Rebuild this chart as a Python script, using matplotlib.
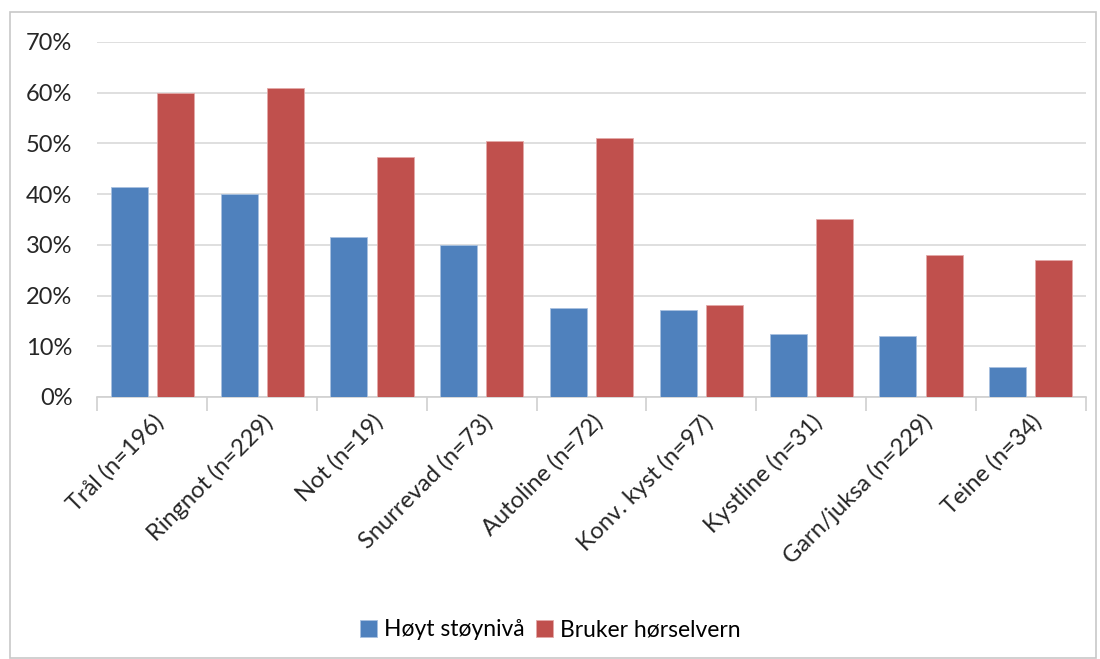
import numpy as np
import matplotlib
matplotlib.use("Agg")
import matplotlib.pyplot as plt
import matplotlib.patches as mpatches
from matplotlib.ticker import PercentFormatter

categories = ["Trål (n=196)", "Ringnot (n=229)", "Not (n=19)", "Snurrevad (n=73)",
              "Autoline (n=72)", "Konv. kyst (n=97)", "Kystline (n=31)",
              "Garn/juksa (n=229)", "Teine (n=34)"]
hoyt_stoy = [41.5, 40.0, 31.5, 30.0, 17.5, 17.1, 12.5, 12.0, 5.9]
horselvern = [60.0, 61.0, 47.4, 50.4, 51.0, 18.1, 35.0, 27.9, 27.0]
series_names = ["Høyt støynivå", "Bruker hørselvern"]

blue = "#4F81BD"
red = "#C0504D"

plt.rcParams['font.family'] = ['Lato', 'DejaVu Sans']

fig = plt.figure(figsize=(11, 6.59), dpi=100)
ax = fig.add_axes([0.0886, 0.3976, 0.8984, 0.5387])

x = np.arange(len(categories))
w = 0.337
off = 0.21
ax.bar(x - off, hoyt_stoy, w, color=blue, edgecolor="#a9c1e0", lw=0.6, label=series_names[0], zorder=3)
ax.bar(x + off, horselvern, w, color=red, edgecolor="#e3a9a8", lw=0.6, label=series_names[1], zorder=3)

ax.set_xlim(-0.5, len(categories) - 0.5)
ax.set_ylim(0, 70)
ax.set_yticks(np.arange(0, 71, 10))
ax.yaxis.set_major_formatter(PercentFormatter(decimals=0))
ax.grid(axis="y", color="#d9d9d9", lw=1.2, zorder=0)

for s in ["top", "right", "left"]:
    ax.spines[s].set_visible(False)
ax.spines["bottom"].set_color("#d0d0d0")
ax.spines["bottom"].set_linewidth(1.2)

ax.tick_params(axis="y", length=0, pad=18, labelsize=17, labelcolor="#262626")
ax.set_xticks(x)
ax.set_xticklabels(categories, rotation=45, ha="right", rotation_mode="anchor",
                   fontsize=17, color="#262626")
ax.tick_params(axis="x", length=0, pad=10)
# boundary ticks between categories
ax.set_xticks(np.arange(-0.5, len(categories)), minor=True)
ax.tick_params(axis="x", which="minor", length=10, width=1.2, color="#d0d0d0")

fig.legend(loc="lower center", bbox_to_anchor=(0.5, -0.003), ncol=2, frameon=False,
           fontsize=16.5, handlelength=0.75, handleheight=0.75, handletextpad=0.3,
           columnspacing=0.5)

fig.patches.append(mpatches.Rectangle((10 / 1100, 0.0015), 1086 / 1100, 1 - 13 / 659,
                                      transform=fig.transFigure, fill=False,
                                      edgecolor="#c8c8c8", lw=1.2))

fig.savefig("out.png", dpi=100)
